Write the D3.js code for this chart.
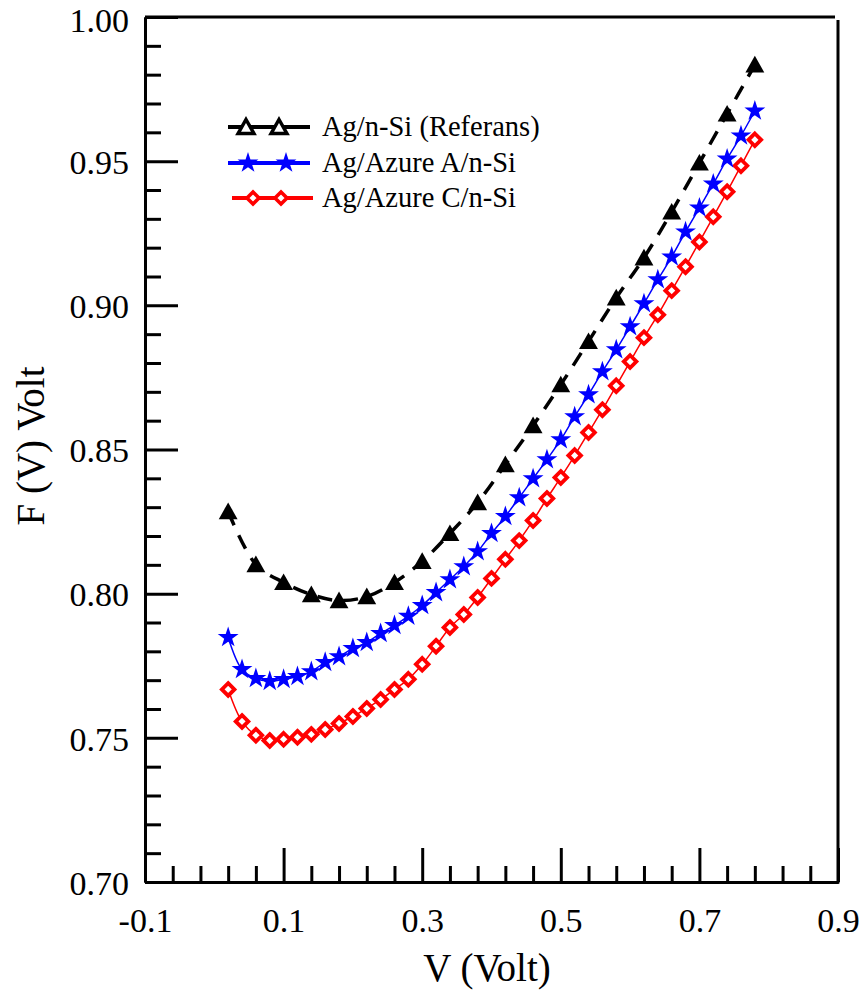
<!DOCTYPE html>
<html>
<head>
<meta charset="utf-8">
<script src="https://cdn.jsdelivr.net/npm/d3@7"></script>
<style>
  html, body { margin: 0; padding: 0; background: #fff; }
  svg { display: block; }
  text { font-family: "Liberation Serif", "Times New Roman", serif; fill: #000; }
</style>
</head>
<body>
<svg id="chart" width="861" height="999"></svg>
<script>
// Bias voltage (V) and F(V) function for each diode
const vRef = [0.02, 0.06, 0.10, 0.14, 0.18, 0.22, 0.26, 0.30, 0.34, 0.38,
              0.42, 0.46, 0.50, 0.54, 0.58, 0.62, 0.66, 0.70, 0.74, 0.78];
const fRef = [0.8285, 0.8101, 0.8039, 0.7997, 0.7976, 0.7990, 0.8039, 0.8112, 0.8209, 0.8316,
              0.8448, 0.8583, 0.8725, 0.8875, 0.9026, 0.9165, 0.9324, 0.9494, 0.9664, 0.9834];

const vAzure = [0.02, 0.04, 0.06, 0.08, 0.10, 0.12, 0.14, 0.16, 0.18, 0.20,
                0.22, 0.24, 0.26, 0.28, 0.30, 0.32, 0.34, 0.36, 0.38, 0.40,
                0.42, 0.44, 0.46, 0.48, 0.50, 0.52, 0.54, 0.56, 0.58, 0.60,
                0.62, 0.64, 0.66, 0.68, 0.70, 0.72, 0.74, 0.76, 0.78];
const fAzureA = [0.7848, 0.7737, 0.7706, 0.7696, 0.7703, 0.7713, 0.7730, 0.7762, 0.7782, 0.7810,
                 0.7831, 0.7862, 0.7890, 0.7922, 0.7959, 0.8004, 0.8049, 0.8094, 0.8146, 0.8209,
                 0.8268, 0.8333, 0.8399, 0.8465, 0.8534, 0.8614, 0.8690, 0.8770, 0.8846, 0.8926,
                 0.9006, 0.9089, 0.9168, 0.9255, 0.9338, 0.9421, 0.9508, 0.9588, 0.9674];
const fAzureC = [0.7668, 0.7557, 0.7509, 0.7491, 0.7495, 0.7502, 0.7512, 0.7529, 0.7550, 0.7574,
                 0.7602, 0.7633, 0.7668, 0.7703, 0.7755, 0.7818, 0.7883, 0.7928, 0.7987, 0.8053,
                 0.8119, 0.8184, 0.8254, 0.8330, 0.8403, 0.8479, 0.8559, 0.8638, 0.8721, 0.8805,
                 0.8888, 0.8967, 0.9051, 0.9134, 0.9220, 0.9307, 0.9394, 0.9484, 0.9574];

const seriesNames = ["Ag/n-Si (Referans)", "Ag/Azure A/n-Si", "Ag/Azure C/n-Si"];

const xMajor = [-0.1, 0.1, 0.3, 0.5, 0.7, 0.9];
const yMajor = [0.70, 0.75, 0.80, 0.85, 0.90, 0.95, 1.00];

// ---------------------------------------------------------------
(function draw() {
  const svg = d3.select("#chart");
  const pL = 145, pR = 838, pT = 17, pB = 882;

  const x = d3.scaleLinear().domain([-0.1, 0.9]).range([pL, pR]);
  const y = d3.scaleLinear().domain([0.70, 1.00]).range([pB, pT]);

  // minor ticks every 0.04 V and 0.01 V
  const xMinor = d3.range(-0.1, 0.9001, 0.04).map(v => +v.toFixed(2))
    .filter(v => !xMajor.some(m => Math.abs(m - v) < 1e-6));
  const yMinor = d3.range(0.70, 1.0001, 0.01).map(v => +v.toFixed(2))
    .filter(v => !yMajor.some(m => Math.abs(m - v) < 1e-6));

  const axisStroke = 3;

  // bottom axis (plain hyphen for negative labels)
  const gx = svg.append("g").attr("transform", `translate(0,${pB})`);
  gx.call(d3.axisBottom(x).tickValues(xMajor).tickSizeInner(-34).tickSizeOuter(0)
    .tickPadding(26).tickFormat(d => d.toFixed(1)));
  const gxm = svg.append("g").attr("transform", `translate(0,${pB})`);
  gxm.call(d3.axisBottom(x).tickValues(xMinor).tickSizeInner(-16).tickSizeOuter(0).tickFormat(""));

  // left axis
  const gy = svg.append("g").attr("transform", `translate(${pL},0)`);
  gy.call(d3.axisLeft(y).tickValues(yMajor).tickSizeInner(-33).tickSizeOuter(0)
    .tickPadding(16).tickFormat(d => d.toFixed(2)));
  const gym = svg.append("g").attr("transform", `translate(${pL},0)`);
  gym.call(d3.axisLeft(y).tickValues(yMinor).tickSizeInner(-16).tickSizeOuter(0).tickFormat(""));

  [gx, gxm, gy, gym].forEach(g => {
    g.selectAll("path.domain").attr("stroke", "#000").attr("stroke-width", axisStroke);
    g.selectAll(".tick line").attr("stroke", "#000").attr("stroke-width", axisStroke);
    g.selectAll(".tick text").style("font-family", "'Liberation Serif', serif")
      .style("font-size", "34px").attr("fill", "#000");
  });
  // y labels sit a touch below their ticks; the top one clears the page edge
  gy.selectAll(".tick text").attr("dy", d => d >= 0.999 ? "0.42em" : "0.36em");

  // top and right frame lines
  svg.append("path")
    .attr("d", `M${pL},${pT}H${pR - 3}M${pR},${pT + 3}V${pB + 1.5}`)
    .attr("fill", "none").attr("stroke", "#000").attr("stroke-width", axisStroke);

  // axis titles
  svg.append("text").attr("x", 487).attr("y", 981)
    .attr("text-anchor", "middle").style("font-size", "39px").text("V (Volt)");
  svg.append("text").attr("transform", `translate(44,446) rotate(-90)`)
    .attr("text-anchor", "middle").style("font-size", "39px").text("F (V) Volt");

  // marker shapes
  const triPath = (s) => `M0,${-s}L${s * 1.05},${s * 0.85}L${-s * 1.05},${s * 0.85}Z`;
  const diaPath = (s) => `M0,${-s}L${s},0L0,${s}L${-s},0Z`;
  const starPath = d3.symbol(d3.symbolStar, 135)();

  const refData = vRef.map((v, i) => ({ v, f: fRef[i] }));
  const aData = vAzure.map((v, i) => ({ v, f: fAzureA[i] }));
  const cData = vAzure.map((v, i) => ({ v, f: fAzureC[i] }));

  const curve = d3.line().x(d => x(d.v)).y(d => y(d.f)).curve(d3.curveCatmullRom.alpha(0.5));

  const plot = svg.append("g");

  plot.append("path").datum(cData).attr("d", curve)
    .attr("fill", "none").attr("stroke", "#ff0000").attr("stroke-width", 1.5);
  plot.append("path").datum(aData).attr("d", curve)
    .attr("fill", "none").attr("stroke", "#0000ff").attr("stroke-width", 1.5);
  plot.append("path").datum(refData).attr("d", curve)
    .attr("fill", "none").attr("stroke", "#000").attr("stroke-width", 3.5)
    .attr("stroke-dasharray", "15,11");

  plot.selectAll("path.dia").data(cData).join("path").attr("class", "dia")
    .attr("transform", d => `translate(${x(d.v)},${y(d.f)})`)
    .attr("d", diaPath(6.3))
    .attr("fill", "#fff").attr("stroke", "#ff0000").attr("stroke-width", 3.8);

  plot.selectAll("path.star").data(aData).join("path").attr("class", "star")
    .attr("transform", d => `translate(${x(d.v)},${y(d.f)})`)
    .attr("d", starPath).attr("fill", "#0000ff");

  plot.selectAll("path.tri").data(refData).join("path").attr("class", "tri")
    .attr("transform", d => `translate(${x(d.v)},${y(d.f)})`)
    .attr("d", triPath(9)).attr("fill", "#000");

  // legend
  const legend = svg.append("g");
  const rows = [
    { name: seriesNames[0], color: "#000", y: 127, x0: 228, x1: 310, m: [246, 279], kind: "tri" },
    { name: seriesNames[1], color: "#0000ff", y: 163, x0: 228, x1: 310, m: [248, 286], kind: "star" },
    { name: seriesNames[2], color: "#ff0000", y: 198, x0: 232, x1: 313, m: [253, 281], kind: "dia" }
  ];
  rows.forEach(r => {
    legend.append("line").attr("x1", r.x0).attr("x2", r.x1).attr("y1", r.y).attr("y2", r.y)
      .attr("stroke", r.color).attr("stroke-width", 4);
    r.m.forEach(mx => {
      const p = legend.append("path").attr("transform", `translate(${mx},${r.y})`);
      if (r.kind === "tri") p.attr("d", triPath(7.5)).attr("fill", "#fff").attr("stroke", "#000").attr("stroke-width", 3.5);
      else if (r.kind === "star") p.attr("d", starPath).attr("fill", "#0000ff");
      else p.attr("d", diaPath(6)).attr("fill", "#fff").attr("stroke", "#ff0000").attr("stroke-width", 3.6);
    });
    legend.append("text").attr("x", 322).attr("y", r.y + 9).style("font-size", "28.5px").text(r.name);
  });
})();
</script>
</body>
</html>
